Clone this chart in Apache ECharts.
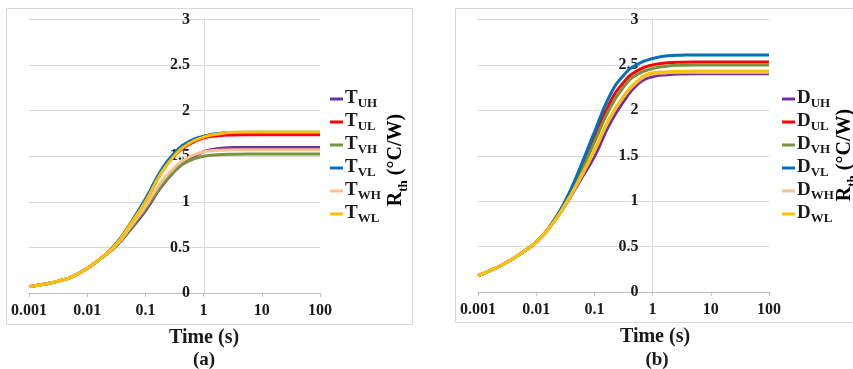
<!DOCTYPE html>
<html>
<head>
<meta charset="utf-8">
<script src="https://cdn.jsdelivr.net/npm/echarts@6/dist/echarts.min.js"></script>
<style>html,body{margin:0;padding:0;background:#fff}#c{width:853px;height:369px}</style>
</head>
<body>
<div id="c"></div>
<script>
// time points (s)
const times = [0.001, 0.0018, 0.0032, 0.0056, 0.01, 0.018, 0.032, 0.056, 0.1, 0.18, 0.32, 0.56, 1, 1.8, 3.2, 5.6, 10, 100];
const xTicks = ['0.001', '0.01', '0.1', '1', '10', '100'];
const yTicks = [0, 0.5, 1, 1.5, 2, 2.5, 3];

// panel (a)
const T_UH = [0.07, 0.095, 0.13, 0.18, 0.27, 0.39, 0.52, 0.70, 0.90, 1.15, 1.34, 1.47, 1.55, 1.585, 1.595, 1.597, 1.597, 1.597];
const T_UL = [0.07, 0.095, 0.13, 0.18, 0.27, 0.39, 0.54, 0.76, 1.00, 1.30, 1.51, 1.63, 1.70, 1.726, 1.734, 1.736, 1.736, 1.736];
const T_VH = [0.07, 0.095, 0.13, 0.18, 0.27, 0.39, 0.52, 0.71, 0.92, 1.16, 1.34, 1.45, 1.50, 1.517, 1.522, 1.524, 1.524, 1.524];
const T_VL = [0.07, 0.095, 0.13, 0.18, 0.27, 0.39, 0.55, 0.77, 1.03, 1.33, 1.54, 1.66, 1.72, 1.750, 1.760, 1.762, 1.762, 1.762];
const T_WH = [0.07, 0.095, 0.13, 0.18, 0.27, 0.39, 0.53, 0.73, 0.95, 1.20, 1.38, 1.49, 1.55, 1.566, 1.570, 1.571, 1.571, 1.571];
const T_WL = [0.07, 0.095, 0.13, 0.18, 0.27, 0.39, 0.54, 0.76, 1.00, 1.30, 1.51, 1.64, 1.71, 1.745, 1.762, 1.766, 1.766, 1.766];

// panel (b)
const D_UH = [0.18, 0.25, 0.33, 0.43, 0.55, 0.73, 0.96, 1.22, 1.49, 1.84, 2.10, 2.29, 2.37, 2.393, 2.400, 2.402, 2.402, 2.402];
const D_UL = [0.18, 0.25, 0.33, 0.43, 0.55, 0.74, 1.00, 1.32, 1.70, 2.07, 2.31, 2.44, 2.50, 2.523, 2.530, 2.532, 2.532, 2.532];
const D_VH = [0.18, 0.25, 0.33, 0.43, 0.55, 0.74, 0.99, 1.29, 1.65, 2.01, 2.26, 2.40, 2.46, 2.488, 2.497, 2.500, 2.500, 2.500];
const D_VL = [0.18, 0.25, 0.33, 0.43, 0.55, 0.74, 1.01, 1.36, 1.76, 2.15, 2.39, 2.51, 2.57, 2.600, 2.607, 2.610, 2.610, 2.610];
const D_WH = [0.18, 0.25, 0.33, 0.43, 0.55, 0.73, 0.97, 1.24, 1.55, 1.90, 2.15, 2.32, 2.40, 2.415, 2.420, 2.420, 2.420, 2.420];
const D_WL = [0.18, 0.25, 0.33, 0.43, 0.55, 0.73, 0.97, 1.25, 1.56, 1.91, 2.16, 2.33, 2.41, 2.425, 2.430, 2.432, 2.432, 2.432];

const namesA = ['T_UH', 'T_UL', 'T_VH', 'T_VL', 'T_WH', 'T_WL'];
const namesB = ['D_UH', 'D_UL', 'D_VH', 'D_VL', 'D_WH', 'D_WL'];
const valsA = [T_UH, T_UL, T_VH, T_VL, T_WH, T_WL];
const valsB = [D_UH, D_UL, D_VH, D_VL, D_WH, D_WL];
const colors = ['#7030a0', '#ff0000', '#77933c', '#0070c0', '#fac090', '#ffc000'];

const serif = '"Liberation Serif", "Times New Roman", serif';
const chart = echarts.init(document.getElementById('c'), null, {renderer: 'canvas'});

function xAxisDef(gi) {
  return {
    type: 'log', logBase: 10, gridIndex: gi, min: 0.001, max: 100,
    axisLine: {show: true, lineStyle: {color: '#bfbfbf', width: 1}},
    axisTick: {show: true, length: 4, lineStyle: {color: '#bfbfbf'}},
    splitLine: {show: false},
    axisLabel: {
      color: '#1a1a1a', fontFamily: serif, fontWeight: 'bold', fontSize: 16, margin: 10,
      formatter: function (v) {
        const e = Math.round(Math.log10(v));
        return xTicks[e + 3] !== undefined ? xTicks[e + 3] : '';
      }
    }
  };
}
function yAxisDef(gi, off) {
  return {
    type: 'value', gridIndex: gi, min: 0, max: 3, interval: 0.5, position: 'left', offset: off,
    axisLine: {show: true, lineStyle: {color: '#d9d9d9', width: 1}},
    axisTick: {show: false},
    splitLine: {show: true, lineStyle: {color: '#d9d9d9', width: 1}},
    axisLabel: {
      color: '#1a1a1a', fontFamily: serif, fontWeight: 'bold', fontSize: 16, margin: 14,
      formatter: function (v) { return yTicks.indexOf(v) >= 0 ? String(v) : ''; }
    }
  };
}
function mkSeries(names, vals, gi) {
  return names.map(function (n, i) {
    return {
      name: n, type: 'line', xAxisIndex: gi, yAxisIndex: gi,
      data: times.map(function (t, k) { return [t, vals[i][k]]; }),
      smooth: 0.5, symbol: 'none', lineStyle: {width: 3, color: colors[i]},
      itemStyle: {color: colors[i]}, z: 3 + i
    };
  });
}
const legRich = {
  m: {fontFamily: serif, fontWeight: 'bold', fontSize: 19, color: '#1a1a1a', lineHeight: 18, verticalAlign: 'bottom'},
  s: {fontFamily: serif, fontWeight: 'bold', fontSize: 13, color: '#1a1a1a', lineHeight: 18, verticalAlign: 'bottom', padding: [0, 0, -2, 0]}
};
function legendDef(names, left) {
  return {
    data: names, orient: 'vertical', left: left, top: 89, itemGap: 2, padding: 0,
    icon: 'rect', itemWidth: 13, itemHeight: 3, selectedMode: false,
    formatter: function (n) { return '{m|' + n.charAt(0) + '}{s|' + n.slice(2) + '}'; },
    textStyle: {rich: legRich, padding: [0, 0, 0, -3]}
  };
}
const axisNameRich = {
  r: {fontFamily: serif, fontWeight: 'bold', fontSize: 20, color: '#1a1a1a'},
  s: {fontFamily: serif, fontWeight: 'bold', fontSize: 13, color: '#1a1a1a', verticalAlign: 'bottom', padding: [0, 0, -4, 0]}
};
function txt(x, y, s, size) {
  return {type: 'text', x: x, y: y, silent: true,
    style: {text: s, fontFamily: serif, fontWeight: 'bold', fontSize: size, fill: '#1a1a1a', align: 'center', verticalAlign: 'middle'}};
}

chart.setOption({
  animation: false,
  backgroundColor: '#ffffff',
  grid: [
    {left: 29, top: 19.5, width: 291, height: 273.5},
    {left: 478, top: 19.5, width: 291, height: 272.5}
  ],
  xAxis: [xAxisDef(0), xAxisDef(1)],
  yAxis: [yAxisDef(0, -175), yAxisDef(1, -174.6)],
  legend: [legendDef(namesA, 330), legendDef(namesB, 782)],
  series: mkSeries(namesA, valsA, 0).concat(mkSeries(namesB, valsB, 1)),
  graphic: [
    {type: 'rect', silent: true, shape: {x: 6.5, y: 8.5, width: 406, height: 316}, style: {fill: 'none', stroke: '#d9d9d9', lineWidth: 1}, z: -1},
    {type: 'rect', silent: true, shape: {x: 455.5, y: 8.5, width: 410, height: 314}, style: {fill: 'none', stroke: '#d9d9d9', lineWidth: 1}, z: -1},
    txt(204, 338, 'Time (s)', 20),
    txt(204, 360, '(a)', 19),
    txt(655, 337, 'Time (s)', 20),
    txt(657, 360, '(b)', 19),
    {type: 'text', x: 396, y: 160, rotation: Math.PI / 2, silent: true,
      style: {text: '{r|R}{s|th}{r| (°C/W)}', rich: axisNameRich, align: 'center', verticalAlign: 'middle'}},
    {type: 'text', x: 845, y: 155, rotation: Math.PI / 2, silent: true,
      style: {text: '{r|R}{s|th}{r| (°C/W)}', rich: axisNameRich, align: 'center', verticalAlign: 'middle'}}
  ]
});
</script>
</body>
</html>
